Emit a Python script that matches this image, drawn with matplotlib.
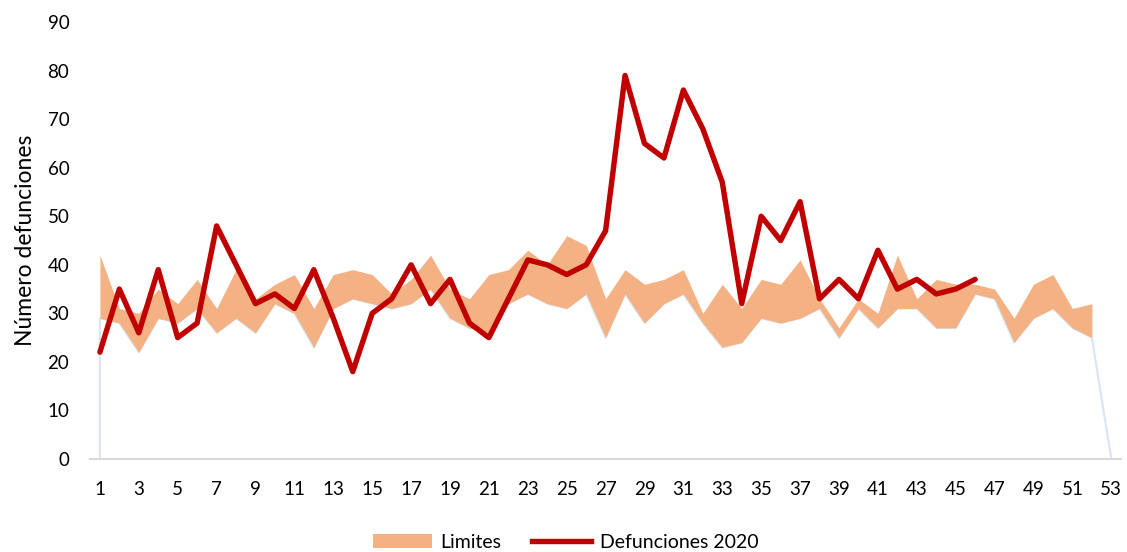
import numpy as np
import matplotlib
matplotlib.use("Agg")
import matplotlib.pyplot as plt
from matplotlib.patches import Patch
from matplotlib.lines import Line2D

plt.rcParams['font.family'] = ['Lato', 'DejaVu Sans']

weeks = list(range(1, 54))
upper = [42, 31, 30, 35, 32, 37, 31, 39, 33, 36,
         38, 31, 38, 39, 38, 34, 37, 42, 35, 33,
         38, 39, 43, 40, 46, 44, 33, 39, 36, 37,
         39, 30, 36, 31, 37, 36, 41, 33, 27, 33,
         30, 42, 33, 37, 36, 36, 35, 29, 36, 38,
         31, 32, np.nan]
lower = [29, 28, 22, 29, 28, 31, 26, 29, 26, 32,
         30, 23, 31, 33, 32, 31, 32, 35, 29, 27,
         26, 32, 34, 32, 31, 34, 25, 34, 28, 32,
         34, 28, 23, 24, 29, 28, 29, 31, 25, 31,
         27, 31, 31, 27, 27, 34, 33, 24, 29, 31,
         27, 25, 0]
weeks_2020 = list(range(1, 47))
deaths_2020 = [22, 35, 26, 39, 25, 28, 48, 40, 32, 34,
               31, 39, 29, 18, 30, 33, 40, 32, 37, 28,
               25, 33, 41, 40, 38, 40, 47, 79, 65, 62,
               76, 68, 57, 32, 50, 45, 53, 33, 37, 33,
               43, 35, 37, 34, 35, 37]
xtick_labels = [str(w) for w in range(1, 54, 2)]
yticks = list(range(0, 91, 10))

fig = plt.figure(figsize=(11.27, 5.52), dpi=100)
ax = fig.add_axes([0.080, 0.1685, 0.9147, 0.7915])

w = np.array(weeks, dtype=float)
lo = np.array(lower, dtype=float)
up = np.array(upper, dtype=float)

# base (lower) series outline, light blue
ax.plot(np.r_[w[0], w], np.r_[0, lo], color='#dae5f3', lw=1.5, zorder=1)
# band
valid = ~np.isnan(up)
ax.fill_between(w[valid], lo[valid], up[valid], color='#f4b183', lw=0, zorder=2)
# 2020 line
ax.plot(weeks_2020, deaths_2020, color='#c00000', lw=3.9, zorder=3,
        solid_joinstyle='round', solid_capstyle='round')

ax.set_xlim(0.5, 53.5)
ax.set_ylim(0, 90)
ax.set_xticks(list(range(1, 54, 2)))
ax.set_xticklabels(xtick_labels)
ax.set_yticks(yticks)
for s in ['top', 'right', 'left']:
    ax.spines[s].set_visible(False)
ax.spines['bottom'].set_color('#d9d9d9')
ax.spines['bottom'].set_linewidth(1.5)
ax.tick_params(axis='both', length=0, labelsize=13.5, colors='black')
ax.tick_params(axis='x', pad=16)
ax.tick_params(axis='y', pad=15)
ax.set_ylabel('Número defunciones', fontsize=16.5, labelpad=8)

handles = [Patch(facecolor='#f4b183', edgecolor='none'),
           Line2D([0], [0], color='#c00000', lw=3.9)]
fig.legend(handles, ['Limites', 'Defunciones 2020'], loc='center',
           bbox_to_anchor=(0.502, 0.018), ncol=2, frameon=False,
           fontsize=14, handlelength=3.0, columnspacing=1.6,
           handletextpad=0.45)

fig.savefig('out.png', dpi=100)
